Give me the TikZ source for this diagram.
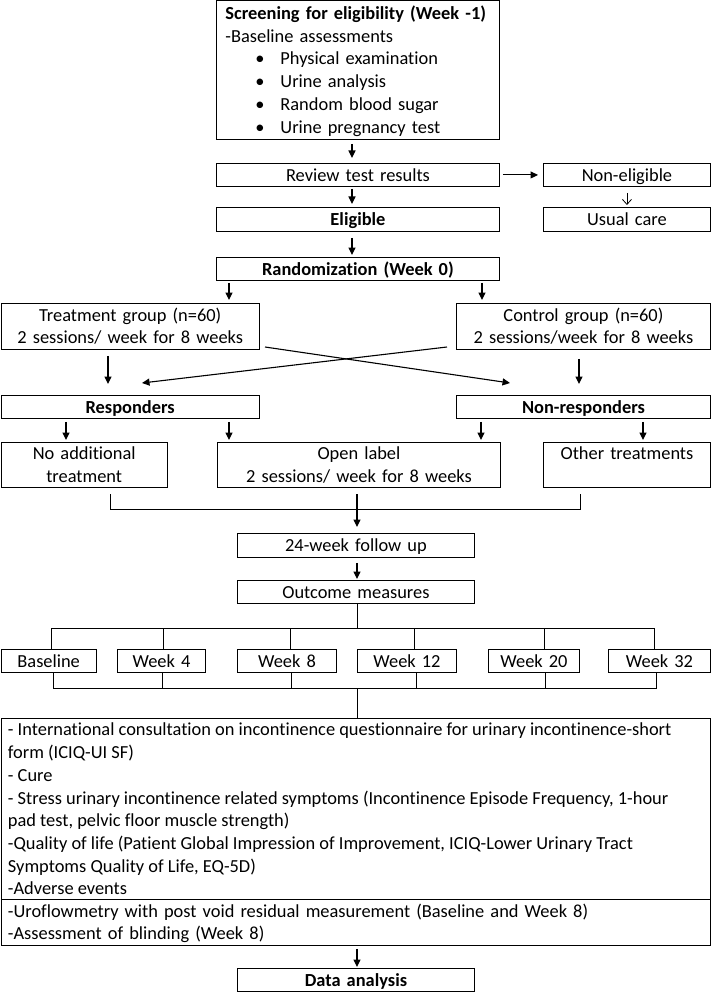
\documentclass[tikz,border=0pt]{standalone}
\usepackage{fontspec}
\setmainfont{Carlito}[Ligatures=CommonOff]
\usetikzlibrary{arrows.meta}
\newcommand\fsz{\fontsize{18.4}{22.7}\selectfont}
\newcommand\st{\rule[-5.2pt]{0pt}{22.7pt}}
\newcommand\bul{\hspace*{39pt}\makebox[25pt][l]{\textbullet}}
\begin{document}
\begin{tikzpicture}[x=1pt,y=-1pt,
  box/.style={draw, line width=0.9pt, inner xsep=0pt, inner ysep=0pt, font=\fsz, align=center, anchor=north west},
  conn/.style={line width=0.9pt},
  arr/.style={line width=1.1pt, -{Triangle[length=7.5pt,width=7pt]}},
  thinarr/.style={line width=0.8pt, -{Straight Barb[length=5pt,width=9pt]}}]
\useasboundingbox (0,0) rectangle (712,992);

% nodes
\node[box, text width=283pt, minimum height=138.5pt, align=left] (scr) at (216,0.5)
 {\st\hspace*{9pt}\textbf{Screening for eligibility (Week -1)}\\
  \hspace*{9pt}-Baseline assessments\\
  \bul Physical examination\\
  \bul Urine analysis\\
  \bul Random blood sugar\\
  \bul Urine pregnancy test\st};
\node[box, text width=283pt, minimum height=23pt] (rev) at (216,163) {\st Review test results};
\node[box, text width=167pt, minimum height=23pt] (ne) at (543,163) {\st Non-eligible};
\node[box, text width=283pt, minimum height=24pt] (elig) at (216,207) {\st\textbf{Eligible}};
\node[box, text width=167pt, minimum height=24pt] (uc) at (543,207) {\st Usual care};
\node[box, text width=283pt, minimum height=23pt] (rand) at (216,257) {\st\textbf{Randomization (Week 0)}};
\node[box, text width=258.5pt, minimum height=46pt] (treat) at (0.5,303) {\st Treatment group (n=60)\\2 sessions/ week for 8 weeks\st};
\node[box, text width=254pt, minimum height=46pt] (ctrl) at (456,303) {\st Control group (n=60)\\2 sessions/week for 8 weeks\st};
\node[box, text width=258.5pt, minimum height=23pt] (resp) at (0.5,395) {\st\textbf{Responders}};
\node[box, text width=254pt, minimum height=23pt] (nonresp) at (456,395) {\st\textbf{Non-responders}};
\node[box, text width=166.5pt, minimum height=45pt] (noadd) at (0.5,442) {\st No additional\\treatment\st};
\node[box, text width=283pt, minimum height=45pt] (open) at (217,442) {\st Open label\\2 sessions/ week for 8 weeks\st};
\node[box, text width=167pt, minimum height=45pt] (other) at (543,442) {\st Other treatments\\\st};
\node[box, text width=237pt, minimum height=24pt] (wk24) at (237,533) {\st 24-week follow up};
\node[box, text width=237pt, minimum height=23pt] (outc) at (237,580) {\st Outcome measures};
\node[box, text width=95.5pt, minimum height=23pt] (base) at (0.5,649) {\st Baseline};
\node[box, text width=88pt, minimum height=23pt] (w4) at (117,649) {\st Week 4};
\node[box, text width=99pt, minimum height=23pt] (w8) at (237,649) {\st Week 8};
\node[box, text width=99pt, minimum height=23pt] (w12) at (357,649) {\st Week 12};
\node[box, text width=91pt, minimum height=23pt] (w20) at (488,649) {\st Week 20};
\node[box, text width=102pt, minimum height=23pt] (w32) at (608,649) {\st Week 32};
\node[draw, line width=0.9pt, inner xsep=7pt, inner ysep=0pt, anchor=north west, font=\fsz] (meas) at (0.5,718)
 {\parbox[c][181pt][t]{695pt}{\raggedright\st - International consultation on incontinence questionnaire for urinary incontinence-short\\
  form (ICIQ-UI SF)\\
  - Cure\\
  - Stress urinary incontinence related symptoms (Incontinence Episode Frequency, 1-hour\\
  pad test, pelvic floor muscle strength)\\
  -Quality of life (Patient Global Impression of Improvement, ICIQ-Lower Urinary Tract\\
  Symptoms Quality of Life, EQ-5D)\\
  -Adverse events\st}};
\node[box, inner xsep=7pt, text width=695pt, minimum height=46pt, align=left] (measb) at (0.5,899)
 {\st -Uroflowmetry with post void residual measurement (Baseline and Week 8)\\
  -Assessment of blinding (Week 8)\st};
\node[box, text width=237pt, minimum height=23pt] (data) at (237,968) {\st\textbf{Data analysis}};

% helper coordinates
\coordinate (cx) at (352,0);
\coordinate (xl) at (229,0);
\coordinate (xr) at (482,0);
\coordinate (xt) at (108,0);
\coordinate (xc) at (579,0);
\coordinate (x1) at (66,0);
\coordinate (x3) at (481,0);
\coordinate (x4) at (643,0);
\coordinate (xa) at (110,0);
\coordinate (xb) at (580,0);
\coordinate (xm) at (357,0);
\coordinate (j) at (357,509);
\coordinate (h1) at (357,628);
\coordinate (h2) at (357,688);
\coordinate (t1) at (51,0);
\coordinate (t2) at (163,0);
\coordinate (t3) at (290,0);
\coordinate (t4) at (414,0);
\coordinate (t5) at (544,0);
\coordinate (t6) at (654,0);
\coordinate (s1) at (53,0);
\coordinate (s2) at (162,0);
\coordinate (s3) at (291,0);
\coordinate (s4) at (416,0);
\coordinate (s5) at (545,0);
\coordinate (s6) at (656,0);
\coordinate (ta) at (265,347);
\coordinate (tb) at (510,383);
\coordinate (ca) at (447,347);
\coordinate (cb) at (142,383);

% connectors
\draw[arr, shorten <=4pt, shorten >=5pt] (scr.south -| cx) -- (rev.north -| cx);
\draw[arr, shorten <=3pt, shorten >=5pt] (rev.east) -- (ne.west);
\draw[thinarr, shorten <=6pt, shorten >=2pt] (ne.south) -- (uc.north);
\draw[arr, shorten <=2pt, shorten >=3pt] (rev.south -| cx) -- (elig.north -| cx);
\draw[arr, shorten <=6pt, shorten >=2pt] (elig.south -| cx) -- (rand.north -| cx);
\draw[arr, shorten <=2pt, shorten >=3pt] (rand.south -| xl) -- (treat.north -| xl);
\draw[arr, shorten <=2pt, shorten >=3pt] (rand.south -| xr) -- (ctrl.north -| xr);
\draw[arr, shorten <=6pt, shorten >=11pt] (treat.south -| xt) -- (resp.north -| xt);
\draw[arr, shorten <=9pt, shorten >=11pt] (ctrl.south -| xc) -- (nonresp.north -| xc);
\draw[arr] (ta) -- (tb);
\draw[arr] (ca) -- (cb);
\draw[arr, shorten <=3pt, shorten >=2pt] (resp.south -| x1) -- (noadd.north -| x1);
\draw[arr, shorten <=3pt, shorten >=2pt] (resp.south -| xl) -- (open.north -| xl);
\draw[arr, shorten <=3pt, shorten >=2pt] (nonresp.south -| x3) -- (open.north -| x3);
\draw[arr, shorten <=3pt, shorten >=2pt] (nonresp.south -| x4) -- (other.north -| x4);
\draw[conn, shorten <=6pt] (noadd.south -| xa) |- (j);
\draw[conn, shorten <=6pt] (other.south -| xb) |- (j);
\draw[arr, shorten <=6pt, shorten >=6pt] (open.south -| xm) -- (wk24.north -| xm);
\draw[arr, shorten <=5pt, shorten >=1pt] (wk24.south -| xm) -- (outc.north -| xm);
\draw[conn] (outc.south -| xm) -- (h1);
\draw[conn] (base.north -| t1) |- (h1);
\draw[conn] (w4.north -| t2) |- (h1);
\draw[conn] (w8.north -| t3) |- (h1);
\draw[conn] (w12.north -| t4) |- (h1);
\draw[conn] (w20.north -| t5) |- (h1);
\draw[conn] (w32.north -| t6) |- (h1);
\draw[conn] (base.south -| s1) |- (h2);
\draw[conn] (w4.south -| s2) |- (h2);
\draw[conn] (w8.south -| s3) |- (h2);
\draw[conn] (w12.south -| s4) |- (h2);
\draw[conn] (w20.south -| s5) |- (h2);
\draw[conn] (w32.south -| s6) |- (h2);
\draw[conn] (h2) -- (meas.north -| xm);
\draw[arr, shorten <=3pt, shorten >=1pt] (measb.south -| xm) -- (data.north -| xm);
\end{tikzpicture}
\end{document}
